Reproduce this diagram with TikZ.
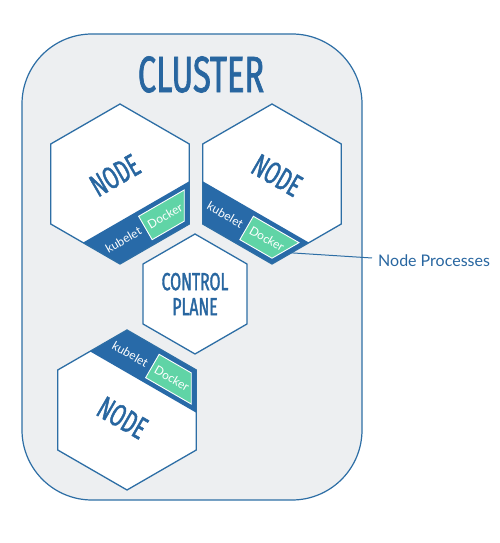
\documentclass[tikz,border=0pt]{standalone}
\usepackage{fontspec}
\setmainfont{Lato}
\newfontfamily\condfont[FakeStretch=0.64, FakeBold=1.4]{Fira Sans}
\newfontfamily\labfont{Lato}
\definecolor{lineblue}{RGB}{45,110,165}
\definecolor{bandblue}{RGB}{40,106,168}
\definecolor{textblue}{RGB}{40,102,160}
\definecolor{dockgreen}{RGB}{96,212,166}
\definecolor{clusterfill}{RGB}{237,239,241}
\tikzset{
  hexfill/.style={fill=white},
  hexline/.style={draw=lineblue, line width=1.3pt, line join=miter},
  bandfill/.style={fill=bandblue},
  dock/.style={fill=dockgreen, draw=white, line width=0.9pt},
  hexp/.style={insert path={(0:#1) -- (60:#1) -- (120:#1) -- (180:#1) -- (240:#1) -- (300:#1) -- cycle}},
  bigtxt/.style={text=textblue, inner sep=0pt, font=\condfont\fontsize{31.5}{31.5}\selectfont},
  smalltxt/.style={text=white, inner sep=0pt, font=\labfont\fontsize{12}{12}\selectfont},
}
\begin{document}
\begin{tikzpicture}[x=1pt,y=1pt]
\useasboundingbox (0,0) rectangle (500,543);
% cluster
\draw[fill=clusterfill, draw=lineblue, line width=1.2pt, rounded corners=70pt] (22,43) rectangle (362,509);
\node[text=textblue, inner sep=0pt, font=\condfont\fontsize{51}{51}\selectfont] (cl) at (201,468.5) {CLUSTER};

% node 1 (top left)
\begin{scope}[shift={(120,359)}, rotate=30]
  \fill[hexfill, hexp=80];
  \fill[bandfill] (-40,-69.28) -- (40,-69.28) -- (61.36,-32.28) -- (-61.36,-32.28) -- cycle;
  \filldraw[dock] (0,-64.28) -- (37.12,-64.28) -- (52.71,-37.28) -- (0,-37.28) -- cycle;
  \draw[hexline, hexp=80];
  \node[bigtxt, transform shape] (t1) at (0,10) {NODE};
  \node[smalltxt, transform shape] (k1) at (-25,-50) {kubelet};
  \node[smalltxt, transform shape] (d1) at (23,-50) {Docker};
\end{scope}

% node 2 (top right)
\begin{scope}[shift={(272,359)}, rotate=-30]
  \fill[hexfill, hexp=80];
  \fill[bandfill] (-40,-69.28) -- (40,-69.28) -- (61.36,-32.28) -- (-61.36,-32.28) -- cycle;
  \filldraw[dock] (0,-64.28) -- (37.12,-64.28) -- (52.71,-37.28) -- (0,-37.28) -- cycle;
  \draw[hexline, hexp=80];
  \node[bigtxt, transform shape] (t2) at (0,10) {NODE};
  \node[smalltxt, transform shape] (k2) at (-25,-50) {kubelet};
  \node[smalltxt, transform shape] (d2) at (23,-50) {Docker};
  \coordinate (np) at (51.1,-50);
\end{scope}

% node 3 (bottom)
\begin{scope}[shift={(127,133)}, rotate=-30]
  \fill[hexfill, hexp=80];
  \fill[bandfill] (-40,69.28) -- (40,69.28) -- (61.36,32.28) -- (-61.36,32.28) -- cycle;
  \filldraw[dock] (0,64.28) -- (37.12,64.28) -- (52.71,37.28) -- (0,37.28) -- cycle;
  \draw[hexline, hexp=80];
  \node[bigtxt, transform shape] (t3) at (0,-9) {NODE};
  \node[smalltxt, transform shape] (k3) at (-25,50) {kubelet};
  \node[smalltxt, transform shape] (d3) at (23,50) {Docker};
\end{scope}

% control plane
\begin{scope}[shift={(195,249)}, rotate=30]
  \filldraw[hexfill, hexline, hexp=60];
\end{scope}
\node[text=textblue, inner sep=0pt, align=center, font=\condfont\fontsize{24.7}{25}\selectfont] (cp) at (195,249) {CONTROL\\PLANE};

% node processes label
\node[anchor=base west, inner sep=0pt, text=textblue, font=\labfont\fontsize{16}{16}\selectfont] (lbl) at (378,276) {Node Processes};
\coordinate (npend) at (372,285);
\draw[lineblue, line width=1pt] (np) -- (npend);
\end{tikzpicture}
\end{document}
